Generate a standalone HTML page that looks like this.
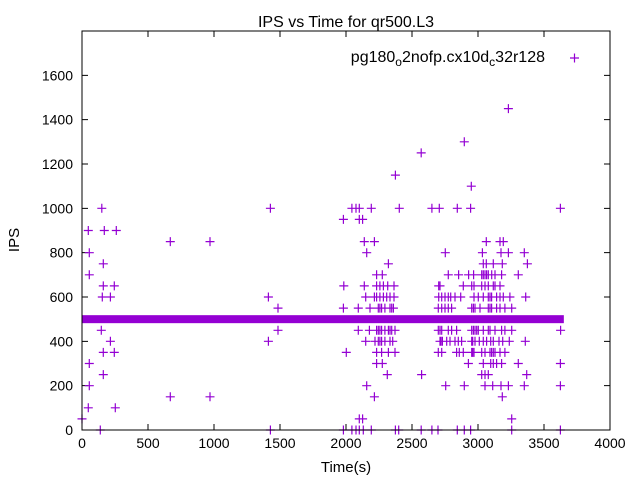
<!DOCTYPE html>
<html><head><meta charset="utf-8"><style>
html,body{margin:0;padding:0;background:#fff;}
svg{display:block;font-family:"Liberation Sans",Arial,sans-serif;}
</style></head><body>
<svg id="chart" width="640" height="480" viewBox="0 0 640 480">
<rect x="0" y="0" width="640" height="480" fill="#fff"/>
<text x="346" y="27" text-anchor="middle" font-size="16">IPS vs Time for qr500.L3</text>
<text x="346" y="472" text-anchor="middle" font-size="15">Time(s)</text>
<text transform="translate(19,240) rotate(-90)" text-anchor="middle" font-size="15">IPS</text>
<g id="ticks"></g>
<g id="points"></g>
<rect x="82" y="31" width="528" height="399" fill="none" stroke="#000" stroke-width="1"/>
<g>
<text x="545" y="62" text-anchor="end" font-size="16">pg180<tspan font-size="12" dy="4">o</tspan><tspan dy="-4">2nofp.cx10d</tspan><tspan font-size="12" dy="4">c</tspan><tspan dy="-4">32r128</tspan></text>
<path d="M570 58h9M574.5 53.5v9" stroke="#9400d3" stroke-width="1.2"/>
</g>
</svg>
<script>
const xTicks=[0,500,1000,1500,2000,2500,3000,3500,4000];
const yTicks=[0,200,400,600,800,1000,1200,1400,1600];
const bandTimes=[0,25,50,75,100,125,150,175,200,225,250,275,300,325,350,375,400,425,450,475,500,525,550,575,600,625,650,675,700,725,750,775,800,825,850,875,900,925,950,975,1000,1025,1050,1075,1100,1125,1150,1175,1200,1225,1250,1275,1300,1325,1350,1375,1400,1425,1450,1475,1500,1525,1550,1575,1600,1625,1650,1675,1700,1725,1750,1775,1800,1825,1850,1875,1900,1925,1950,1975,2000,2025,2050,2075,2100,2125,2150,2175,2200,2225,2250,2275,2300,2325,2350,2375,2400,2425,2450,2475,2500,2525,2550,2575,2600,2625,2650,2675,2700,2725,2750,2775,2800,2825,2850,2875,2900,2925,2950,2975,3000,3025,3050,3075,3100,3125,3150,3175,3200,3225,3250,3275,3300,3325,3350,3375,3400,3425,3450,3475,3500,3525,3550,3575,3600,3620];
const rowValues=[1450,1300,1250,1150,1100,1000,950,900,850,800,750,700,650,600,550,450,400,350,300,250,200,150,100,50,0];
const rowTimes=[
[3230],
[2896],
[2570],
[2374],
[2949],
[150,1427,2045,2076,2101,2192,2404,2651,2707,2843,2944,3624],
[1980,2101,2126],
[48,169,260],
[669,970,2139,2215,3063,3167,3192],
[55,2157,2752,3033,3174,3230,3351],
[161,2321,3040,3063,3116,3184,3374],
[55,2232,2275,2775,2853,2929,2967,3028,3040,3053,3065,3078,3104,3129,3179,3305],
[161,245,1983,2139,2232,2257,2283,2316,2364,2702,2712,2889,2952,2970,3028,3053,3078,3116,3129,3167],
[154,215,1412,2149,2215,2232,2257,2283,2308,2333,2364,2702,2725,2750,2775,2793,2826,2869,2970,3002,3040,3078,3091,3103,3141,3167,3192,3242,3361],
[1485,1980,2093,2182,2245,2257,2270,2295,2333,2346,2359,2699,2725,2750,2775,2800,2952,2965,2977,3015,3078,3091,3103,3141,3167,3204,3255],
[146,1485,2093,2177,2232,2245,2257,2270,2295,2321,2333,2346,2371,2699,2712,2725,2775,2800,2838,2952,2965,2977,2990,3002,3040,3078,3091,3129,3179,3204,3255,3626],
[215,1412,2149,2220,2245,2257,2270,2295,2333,2354,2712,2720,2730,2763,2788,2826,2851,2876,2952,2960,2977,3010,3040,3065,3096,3116,3159,3187,3237,3358],
[161,245,2002,2232,2270,2321,2371,2699,2725,2838,2858,2889,2952,2960,2970,3028,3053,3091,3103,3116,3129,3167,3204],
[55,2232,2275,2927,3040,3096,3116,3141,3179,3305,3624],
[161,2313,2573,3028,3053,3078,3369],
[55,2157,2755,2896,3053,3111,3174,3230,3351,3624],
[669,970,2215,3184],
[48,252],
[0,2101,2126,3255],
[139,1427,1980,2045,2076,2101,2131,2192,2374,2399,2570,2651,2697,2843,2896,2944,3255,3624]
];
const X0=82,X1=610,Y0=430,Y1=31,XMAX=4000,YMAX=1800;
function xs(t){return X0+(t/XMAX)*(X1-X0);}
function ys(v){return Y0-(v/YMAX)*(Y0-Y1);}
const NS='http://www.w3.org/2000/svg';
const tg=document.getElementById('ticks');
xTicks.forEach(t=>{
  const x=xs(t);
  const p=document.createElementNS(NS,'path');
  p.setAttribute('d',`M${x} ${Y0}v-6M${x} ${Y1}v6`);
  p.setAttribute('stroke','#000');
  
  
  tg.appendChild(p);
  const tx=document.createElementNS(NS,'text');
  tx.setAttribute('x',x);tx.setAttribute('y',Y0+18);
  tx.setAttribute('text-anchor','middle');tx.setAttribute('font-size','14');
  tx.textContent=t;
  
  
  tg.appendChild(tx);
});
yTicks.forEach(v=>{
  const y=ys(v);
  const p=document.createElementNS(NS,'path');
  p.setAttribute('d',`M${X0} ${y}h6M${X1} ${y}h-6`);
  p.setAttribute('stroke','#000');
  
  
  tg.appendChild(p);
  const tx=document.createElementNS(NS,'text');
  tx.setAttribute('x',X0-9);tx.setAttribute('y',y+5);
  tx.setAttribute('text-anchor','end');tx.setAttribute('font-size','14');
  tx.textContent=v;
  
  
  tg.appendChild(tx);
});
const pg=document.getElementById('points');
let d='';
function cross(t,v){const x=xs(t),y=ys(v);d+=`M${(x-4.5).toFixed(1)} ${y.toFixed(1)}h9M${x.toFixed(1)} ${(y-4.5).toFixed(1)}v9`;}
rowValues.forEach((v,i)=>rowTimes[i].forEach(t=>cross(t,v)));
const path=document.createElementNS(NS,'path');
path.setAttribute('d',d);
path.setAttribute('stroke','#9400d3');
path.setAttribute('stroke-width','1.2');
path.setAttribute('fill','none');


pg.appendChild(path);
const band=document.createElementNS(NS,'rect');
band.setAttribute('x',xs(bandTimes[0]));band.setAttribute('y',ys(500)-4);
band.setAttribute('width',xs(bandTimes[bandTimes.length-1])-xs(bandTimes[0])+4);band.setAttribute('height',8);
band.setAttribute('fill','#9400d3');


pg.appendChild(band);
</script>
</body></html>
